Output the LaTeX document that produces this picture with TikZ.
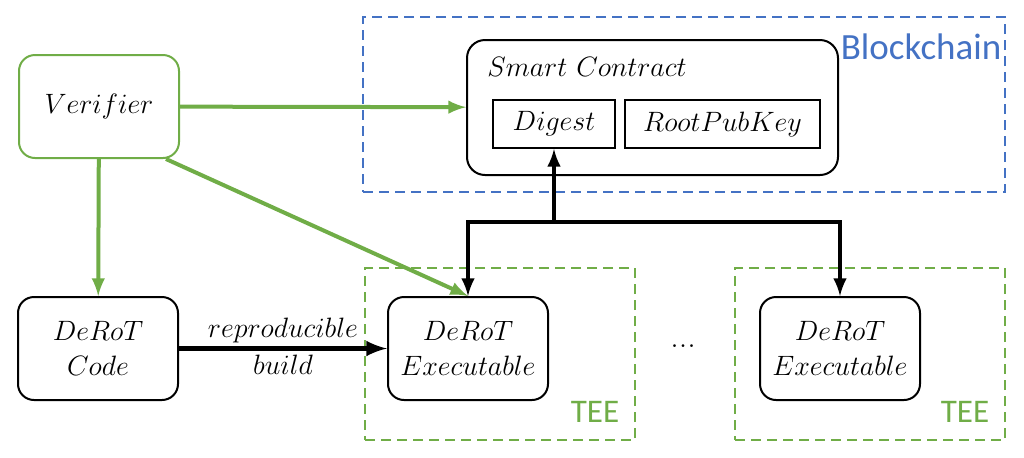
\RequirePackage{fix-cm}
\documentclass[tikz,border=0pt]{standalone}
\usepackage{fontspec}
\newfontfamily\labelfont{Carlito}
\usepackage{tikz}
\usetikzlibrary{arrows}
\definecolor{vgreen}{HTML}{70AD47}
\definecolor{cblue}{HTML}{4472C4}

\begin{document}
\begin{tikzpicture}[x=0.5pt,y=-0.5pt,>=latex,
  every node/.style={font=\fontsize{14}{17.5}\selectfont,align=center},
  box/.style={draw=black,line width=1pt,rounded corners=8pt,minimum width=80pt,minimum height=51.5pt,inner sep=0pt},
  field/.style={draw=black,line width=1pt,minimum height=24pt,inner sep=0pt},
  region/.style={draw,dash pattern=on 5pt off 3pt,line width=0.8pt,inner sep=0pt},
  tag/.style={font=\labelfont\fontsize{16.5}{18}\selectfont}]
\useasboundingbox (0,0) rectangle (1024,457);

\node (chain)[region,draw=cblue,minimum width=321pt,minimum height=87.5pt] at (684,104.5) {};
\node (chainlabel)[tag,text=cblue,font=\labelfont\fontsize{18.5}{20}\selectfont] at (921,47) {Blockchain};
\node (tee1)[region,draw=vgreen,minimum width=135pt,minimum height=86pt] at (500,354) {};
\node (tee1label)[tag,text=vgreen] at (595,412) {TEE};
\node (tee2)[region,draw=vgreen,minimum width=135pt,minimum height=86pt] at (870,354) {};
\node (tee2label)[tag,text=vgreen] at (965,412) {TEE};

\node (smart)[box,rounded corners=9pt,minimum width=185.5pt,minimum height=67.5pt] at (652.5,107.5) {};
\node (smartlabel) at (587,67) {$Smart\ Contract$};
\node (digest)[field,minimum width=61pt] at (554,124) {$Digest$};
\node (rootkey)[field,minimum width=97.5pt] at (722.5,124) {$RootPubKey$};

\node (verifier)[box,draw=vgreen] at (99,106.5) {$Verifier$};
\node (code)[box] at (98,348.5) {$DeRoT$\\$Code$};
\node (exe1)[box] at (468,348.5) {$DeRoT$\\$Executable$};
\node (exe2)[box] at (840,348.5) {$DeRoT$\\$Executable$};
\node (dots)[font=\fontsize{17}{18}\selectfont] at (683,346) {...};
\coordinate (fork) at (554,222);

\draw[->, line width=2pt, vgreen] (verifier) to (smart);
\draw[->, line width=2pt, vgreen] (verifier) to (code);
\draw[->, line width=2pt, vgreen] ([xshift=-7pt]verifier.south east) to (exe1.north);
\draw[->, line width=2pt] (fork) to (digest.south);
\draw[->, line width=2pt] (fork) -| (exe1.north);
\draw[->, line width=2pt] (fork) -| (exe2.north);
\draw[->, line width=2.5pt] (code) to node (repro)[above,inner sep=1.5pt] {$reproducible$} node (build)[below,inner sep=2pt] {$build$} (exe1);
\end{tikzpicture}
\end{document}
